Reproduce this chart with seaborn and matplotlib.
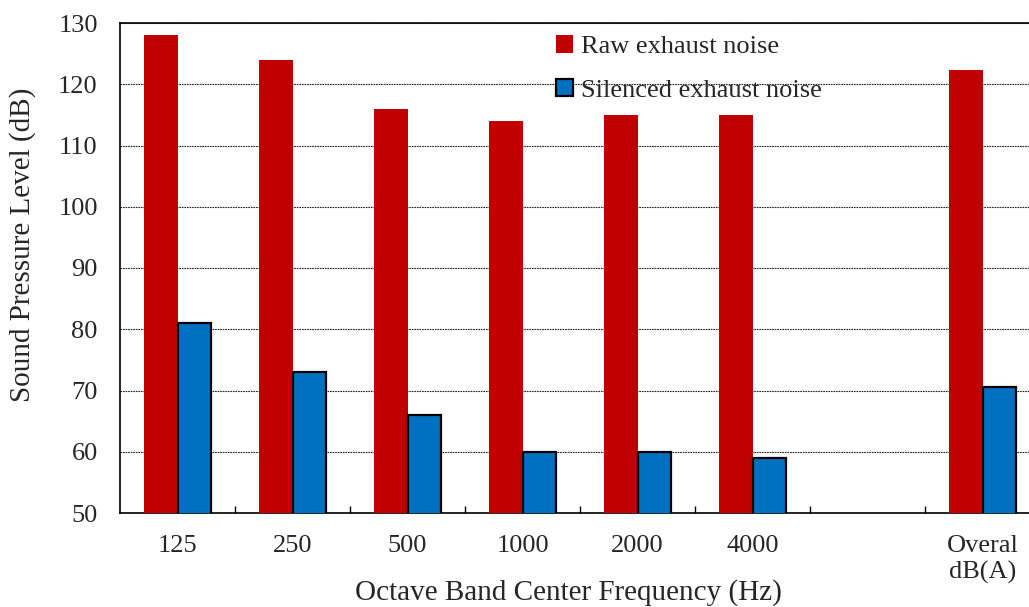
import matplotlib
matplotlib.use("Agg")
import matplotlib.pyplot as plt
from matplotlib.ticker import FixedLocator
import seaborn as sns
import pandas as pd

# octave band levels, raw vs silenced exhaust
bands = ["125", "250", "500", "1000", "2000", "4000", " ", "Overal\ndB(A)"]
raw_noise = [128, 124, 116, 114, 115, 115, None, 122.4]
silenced_noise = [81, 73, 66, 60, 60, 59, None, 70.5]
series = ["Raw exhaust noise", "Silenced exhaust noise"]

rows = []
for b, r, s in zip(bands, raw_noise, silenced_noise):
    if r is not None:
        rows.append({"band": b, "serie": series[0], "spl": r})
    if s is not None:
        rows.append({"band": b, "serie": series[1], "spl": s})
df = pd.DataFrame(rows)

sns.set_style("white")
plt.rcParams["font.family"] = ["Liberation Serif", "DejaVu Serif"]

fig = plt.figure(figsize=(10.29, 6.07), dpi=100)
ax = fig.add_axes([120 / 1029, 94 / 607, 920 / 1029, 490 / 607])

sns.barplot(data=df, x="band", y="spl", hue="serie", order=bands, hue_order=series,
            palette=["#C00000", "#0070C0"], saturation=1, width=0.575, gap=0, ax=ax, zorder=3)

for p in ax.containers[0]:
    p.set_edgecolor("none")
    p.set_linewidth(0)
for p in ax.containers[1]:
    p.set_edgecolor("black")
    p.set_linewidth(1.6)

ax.set_xlim(-0.5, len(bands) - 0.5)
ax.set_ylim(50, 130)
ax.set_yticks(range(50, 131, 10))
ax.yaxis.grid(True, color="#222222", linestyle=(0, (1.5, 0.8)), linewidth=0.8)
ax.set_axisbelow(True)

ax.xaxis.set_minor_locator(FixedLocator([k + 0.5 for k in range(len(bands) - 1)]))
ax.tick_params(axis="x", which="major", length=0, pad=16, labelsize=19)
ax.tick_params(axis="x", which="minor", direction="in", length=5, width=1, color="black", bottom=True)
ax.tick_params(axis="y", length=0, pad=16, labelsize=19)

for sp in ax.spines.values():
    sp.set_visible(True)
    sp.set_color("black")
    sp.set_linewidth(1.2)

ax.set_xlabel("Octave Band Center Frequency (Hz)", fontsize=21)
ax.set_ylabel("Sound Pressure Level (dB)", fontsize=21)
ax.xaxis.set_label_coords((568 - 120) / 920, -0.135)
ax.yaxis.set_label_coords((36 - 120) / 920, 0.547)

leg = ax.legend(loc="upper left", bbox_to_anchor=(0.448, 1.024), frameon=False, fontsize=19,
                handlelength=0.65, handleheight=0.65, handletextpad=0.3, labelspacing=0.78)
leg.legend_handles[0].set_edgecolor("none")
leg.legend_handles[1].set_edgecolor("black")
leg.legend_handles[1].set_linewidth(1.6)

fig.savefig("out.png", dpi=100)
